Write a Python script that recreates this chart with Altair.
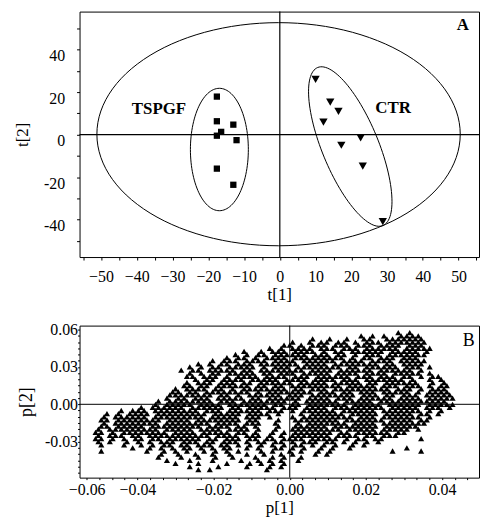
import altair as alt
import pandas as pd

# ---------------- Panel A : score plot ----------------
TSPGF_T1 = [-17.6, -17.6, -13.0, -16.4, -17.6, -12.1, -17.6, -13.0]
TSPGF_T2 = [17.9, 6.3, 4.7, 1.3, -0.5, -2.6, -16.0, -23.6]
CTR_T1 = [10.0, 14.1, 16.4, 12.2, 22.6, 17.2, 23.2, 28.8]
CTR_T2 = [26.0, 15.3, 10.9, 5.9, -1.5, -5.0, -14.8, -40.9]

# ellipses: centre (t1, t2), first semi-axis vector, second semi-axis vector
ELLIPSES = [
    (-0.35, 0.2, 50.8, 0.0, 0.0, 52.5),    # Hotelling T2
    (-16.9, -7.0, 8.1, 0.0, 0.0, 28.8),    # TSPGF group
    (19.7, -5.6, -9.1, 37.2, 7.3, 5.0),    # CTR group
]

GROUP_LABELS = ["TSPGF", "CTR", "A"]
GROUP_LABEL_T1 = [-33.8, 31.7, 51.2]
GROUP_LABEL_T2 = [12.0, 12.4, 51.4]

# ---------------- Panel B : loading plot ----------------
# occupancy: row j -> p[2] = B_Y0 - j*B_DY,
# column i -> p[1] = B_X0 + i*B_DX (odd rows shifted half a column)
B_X0, B_DX = -0.051, 0.0015
B_Y0, B_DY = 0.0575, 0.0025
B_ROWS = [
    "........ ........ ........ ........ ........ ........ .....#.# ........",
    "........ ........ ........ ........ ........ ......#. #.#..### #.......",
    "........ ........ ........ ........ ......#. .#..#..# #..##### ##......",
    "........ ........ ........ ........ ..#..#.# #.##.#.# ##.##### ##......",
    "........ ........ ........ ........ .##.#.## #.###.## #.####.# ##......",
    "........ ........ ........ ......#. #.####.# ##.###.# #####.## ###.....",
    "........ ........ ........ ..#..#.# ##.####. #.##.### ###.#### #.#.....",
    "........ ........ ........ #.#.##.# #####.## #.##.#.# ##.##### ##......",
    "........ ........ .......# .##.#.## ##.##### ####.#.# #.###.## #.......",
    "........ ........ ....#.## #.####.# ###.#### ##.####. ####.### ##......",
    "........ ........ ..#.#.## .###.### ####.### #.###### ##.##.## ##......",
    "........ ........ #.#.##.# ####.#.# ##.##### ###.##.# #####.## #.#.....",
    "........ .......# .##.#### #.##.### #####.## ##.##### #.###### .#......",
    "........ ........ #.#.##.# ####.##. ###.#### #.####.# ###.#### #.#.....",
    "........ ........ ##.###.# .####.## ##.###.# #####.## #.###.## .#.##...",
    "........ ........ .#.##.## ##.##### .####.## ##.###.# ######.# ..#.#...",
    "........ ........ #.###.## #.##.### ###.#### #.#####. ##.##### #..#.#..",
    "........ .......# #.##.### ###.##.# #.###### ###.#### #.###.## #.#.##..",
    "........ ......#. ####.##. #.###### ##.##.## #.###### ####.### .#.###..",
    "........ .....##. ##.##### ###.#.## ######.# ##.##.## #.#####. #.####..",
    "........ .....### #####.## .#.##### #.###.## ######.# ##.##.## #.#####.",
    "........ ....#.## .###.### ##.##.## ####.### #.###.## ####.### #.#####.",
    "........ ...#.### #####.## #.###### ##.#.### ###.#### #.###### ######..",
    "........ ..#.#### #.####.# ######.# #.##.### ####.### ##.##### #.#####.",
    "........ #.###### .######. ##.##### .###.### #.###### ###.#### #.###.#.",
    "....#.## #.###### ##.###.# #####.## #.#.#### ##.##### #.###### #.#.#...",
    "..#.#.## ##.##### ####.### ##.####. #...#.## ####.### ##.##### .##.#...",
    ".#.##### #.###### ###.#### #.###.#. ..#.#### #####.## #.###### #.#.....",
    ".##.#### ####.### #.###### ##.##... #..##### ###.#### ###.#### .##.....",
    ".#.##### ###.#### ####.### #.###..# ...#.### ####.### #.###### ##......",
    ".##.#### #.###### ###.#### .##.#... #..##### #.###### ##.##### #.......",
    "#.###### ###.#### #.####.# ###.#..# ..###### ###.#### #.#####. #.......",
    "##.#.### #####.## ##.##### .##.#..# .#.##### ##.##.## ####.##. ........",
    "#.###.## .####### ####.### #.###.#. #.###### #.####.# #.###... ........",
    "##.#.#.# #.##.### ###.##.# ##.##.## .####.## ###.#.## .##..... .#......",
    "#.#..#.# .#.###.# ##.##.## #.#.##.# #.#.###. ##.#.#.# .#...... ........",
    ".#...#.. #.#.##.# #.###.## .#.#.#.# .#.##.#. #.#..#.# ........ ........",
    "......#. .#.#.#.# #.#.#.## ..#.#..# #.#.#..# .#..#... ......#. ........",
    ".#...... .#..#.#. #..#.#.# .#...#.# ..#.#..# .#...... ....#... .#......",
    "........ ...#..#. .#..#..# ..#..#.. #.#...#. #....... ........ ........",
    "........ ...#...# ..#..#.. #...#..# .#..#... ........ ........ ........",
    "........ ....#... #...#... .#..#.#. #..#.... ........ ........ ........",
    "........ ......#. ..#....# ...#.#.# .#...... ........ ........ ........",
    "........ ........ #....#.. ..#...#. #....... ........ ........ ........",
    "........ ........ ..#.#... ......#. ........ ........ ........ ........",
]
B_LABEL = ["B"]
B_LABEL_P1 = [0.047]
B_LABEL_P2 = [0.0512]

FONT = "Liberation Serif"

# ---------------- build tables ----------------
tspgf_df = pd.DataFrame({"t1": TSPGF_T1, "t2": TSPGF_T2})
ctr_df = pd.DataFrame({"t1": CTR_T1, "t2": CTR_T2})
labels_df = pd.DataFrame({"t1": GROUP_LABEL_T1, "t2": GROUP_LABEL_T2, "label": GROUP_LABELS})

p1_vals, p2_vals = [], []
for j, row in enumerate(B_ROWS):
    cells = row.replace(" ", "")
    for i, c in enumerate(cells):
        if c == "#":
            p1_vals.append(B_X0 + B_DX * (i + 0.5 * (j % 2)))
            p2_vals.append(B_Y0 - B_DY * j)
load_df = pd.DataFrame({"p1": p1_vals, "p2": p2_vals})
blabel_df = pd.DataFrame({"p1": B_LABEL_P1, "p2": B_LABEL_P2, "label": B_LABEL})

# ---------------- Panel A ----------------
xA_scale = alt.Scale(domain=[-56, 55.7], nice=False, zero=False)
yA_scale = alt.Scale(domain=[-57.6, 57.9], nice=False, zero=False)
xA_axis = alt.Axis(
    title="t[1]", values=list(range(-55, 56, 5)),
    labelExpr="datum.value % 10 == 0 ? format(datum.value, 'd') : ''",
    tickSize=3, labelPadding=9, titlePadding=2,
    labelFont=FONT, titleFont=FONT, labelFontSize=16, titleFontSize=17,
)
yA_axis = alt.Axis(
    title="t[2]", values=list(range(-50, 51, 10)),
    labelExpr="datum.value % 20 == 0 ? '' + datum.value : ''",
    tickSize=3, labelPadding=12, titlePadding=12, labelOffset=6,
    labelFont=FONT, titleFont=FONT, labelFontSize=16, titleFontSize=17,
)
xA = alt.X("t1:Q", scale=xA_scale, axis=xA_axis)
yA = alt.Y("t2:Q", scale=yA_scale, axis=yA_axis)


def ellipse_layer(cx, cy, ax, ay, bx, by):
    return (
        alt.Chart(alt.sequence(0, 361, 3, as_="deg"))
        .transform_calculate(
            t1=f"{cx} + ({ax})*cos(datum.deg*PI/180) + ({bx})*sin(datum.deg*PI/180)",
            t2=f"{cy} + ({ay})*cos(datum.deg*PI/180) + ({by})*sin(datum.deg*PI/180)",
        )
        .mark_line(color="black", strokeWidth=1)
        .encode(x=xA, y=yA, order="deg:Q")
    )


ell_layers = [ellipse_layer(*e) for e in ELLIPSES]
vruleA = alt.Chart(pd.DataFrame({"t1": [0.0]})).mark_rule(color="black", strokeWidth=1.2).encode(x=xA)
hruleA = alt.Chart(pd.DataFrame({"t2": [0.0]})).mark_rule(color="black", strokeWidth=1.2).encode(y=yA)
squares = alt.Chart(tspgf_df).mark_point(
    shape="square", filled=True, size=40, color="black", opacity=1
).encode(x=xA, y=yA)
tris = alt.Chart(ctr_df).mark_point(
    shape="triangle-down", filled=True, size=70, color="black", opacity=1
).encode(x=xA, y=yA)
textA = alt.Chart(labels_df).mark_text(
    font=FONT, fontSize=17, fontWeight="bold", color="black", align="center", baseline="middle"
).encode(x=xA, y=yA, text="label:N")

panelA = alt.layer(*ell_layers, vruleA, hruleA, squares, tris, textA).properties(width=402, height=247)

# ---------------- Panel B ----------------
xB_scale = alt.Scale(domain=[-0.0552, 0.0497], nice=False, zero=False)
yB_scale = alt.Scale(domain=[-0.0589, 0.0632], nice=False, zero=False)
xB_axis = alt.Axis(
    title="p[1]", values=[round(k * 0.02 / 6, 6) for k in range(-16, 15)],
    labelExpr="abs(datum.value + 0.05333) < 0.0002 ? '\u22120.06' : "
              "(abs(datum.value * 50 - round(datum.value * 50)) < 0.001 ? format(datum.value, '.2f') : '')",
    tickSize=2, labelPadding=2, titlePadding=2,
    labelFont=FONT, titleFont=FONT, labelFontSize=16, titleFontSize=17,
)
yB_axis = alt.Axis(
    title="p[2]", values=[round(k * 0.005, 3) for k in range(-11, 13)],
    labelExpr="abs(datum.value * 100 / 3 - round(datum.value * 100 / 3)) < 0.001 ? "
              "replace(format(datum.value, '.2f'), '\u2212', '-') : ''",
    tickSize=2, labelPadding=0, titlePadding=9,
    labelFont=FONT, titleFont=FONT, labelFontSize=16, titleFontSize=18,
)
xB = alt.X("p1:Q", scale=xB_scale, axis=xB_axis)
yB = alt.Y("p2:Q", scale=yB_scale, axis=yB_axis)

pts = alt.Chart(load_df).mark_point(
    shape="triangle-up", filled=True, size=38, color="black", opacity=1
).encode(x=xB, y=yB)
vruleB = alt.Chart(pd.DataFrame({"p1": [0.0]})).mark_rule(color="black", strokeWidth=1).encode(x=xB)
hruleB = alt.Chart(pd.DataFrame({"p2": [0.0]})).mark_rule(color="black", strokeWidth=1).encode(y=yB)
textB = alt.Chart(blabel_df).mark_text(
    font=FONT, fontSize=18, color="black", align="center", baseline="middle"
).encode(x=xB, y=yB, text="label:N")

panelB = alt.layer(pts, vruleB, hruleB, textB).properties(width=402, height=153)

chart = (
    alt.vconcat(panelA, panelB, spacing=17)
    .properties(padding={"top": 0, "left": 5, "right": 0, "bottom": 0}, background="white")
    .configure_axis(
        labelFont=FONT, titleFont=FONT, labelFontSize=16, titleFontSize=17,
        titleFontWeight="normal", labelColor="black", titleColor="black",
        tickColor="black", grid=False, domain=False,
    )
    .configure_view(stroke="black", strokeWidth=1)
)

chart.save("out.html", embed_options={"renderer": "svg", "actions": False})
